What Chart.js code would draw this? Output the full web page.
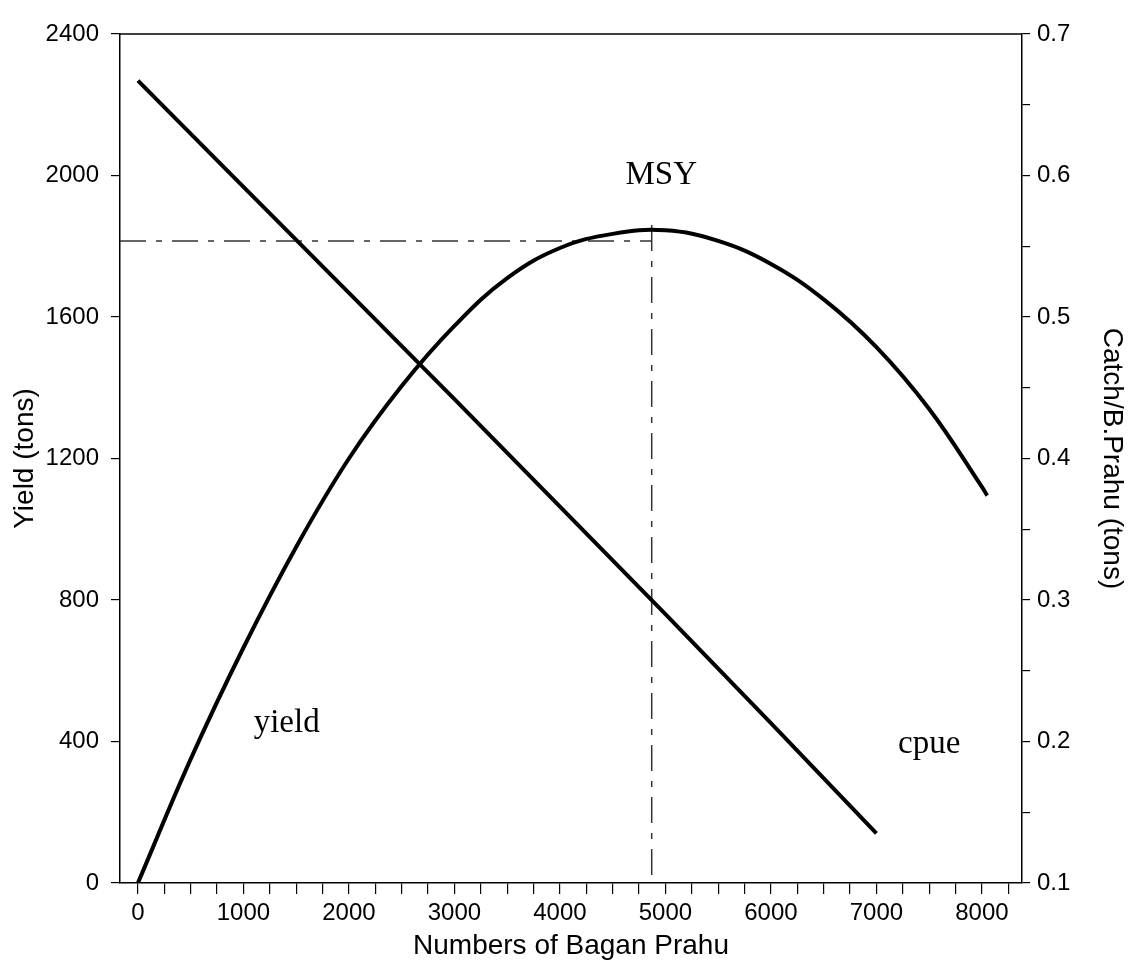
<!DOCTYPE html>
<html>
<head>
<meta charset="utf-8">
<script src="https://cdn.jsdelivr.net/npm/chart.js@4.4.0/dist/chart.umd.min.js"></script>
<style>
    html, body { margin: 0; padding: 0; background: #fff; }
    #wrap { position: relative; width: 1137px; height: 971px; }
</style>
</head>
<body>
<div id="wrap"><canvas id="msyChart"></canvas></div>
<script>
// yield curve (tons) against number of bagan prahu
const effortYield = [0, 500, 1000, 1500, 2000, 2500, 3000, 3500, 4000, 4500, 5000, 5500, 6000, 6500, 7000, 7500, 8000, 8050];
const yieldTons = [0, 350, 665, 950, 1200, 1405, 1575, 1710, 1795, 1835, 1845, 1815, 1750, 1650, 1515, 1340, 1120, 1095];

// catch per unit effort (tons / bagan prahu)
const effortCpue = [0, 1000, 2000, 3000, 4000, 5000, 6000, 7000];
const cpueTons = [0.667, 0.592, 0.517, 0.442, 0.366, 0.290, 0.213, 0.135];

// MSY reference lines
const msyEffort = 4870;
const msyYield = 1815;
const msyTop = 1860;

// axis ranges and ticks
const xMin = -170, xMax = 8380;
const xTicks = [];
for (let v = 0; v <= 8250; v += 250) xTicks.push(v);
const yieldMin = 0, yieldMax = 2400;
const cpueMin = 0.1, cpueMax = 0.7;
const cpueTicks = [0.1, 0.15, 0.2, 0.25, 0.3, 0.35, 0.4, 0.45, 0.5, 0.55, 0.6, 0.65, 0.7];

// labels drawn inside the plot
const notes = [
    { text: 'MSY', x: 4960, y: 2000 },
    { text: 'yield', x: 1410, y: 450 },
    { text: 'cpue', x: 7500, y: 392 }
];

const toPoints = (xs, ys) => xs.map((x, i) => ({ x: x, y: ys[i] }));

const tickFont = { family: 'Liberation Sans, Arial, sans-serif', size: 24 };
const titleFont = { family: 'Liberation Sans, Arial, sans-serif', size: 28 };

const frame = {
    id: 'frame',
    afterDatasetsDraw(chart) {
        const a = chart.chartArea;
        const c = chart.ctx;
        c.save();
        c.strokeStyle = '#000';
        c.lineWidth = 1.5;
        c.beginPath();
        c.moveTo(a.left, a.top);
        c.lineTo(a.right, a.top);
        c.stroke();
        c.restore();
    }
};

const noteText = {
    id: 'noteText',
    afterDatasetsDraw(chart) {
        const c = chart.ctx;
        const xs = chart.scales.x, ys = chart.scales.y;
        c.save();
        c.fillStyle = '#000';
        c.font = '33px "Liberation Serif", "Times New Roman", serif';
        c.textAlign = 'center';
        c.textBaseline = 'middle';
        notes.forEach(n => {
            c.fillText(n.text, xs.getPixelForValue(n.x), ys.getPixelForValue(n.y));
        });
        c.restore();
    }
};

new Chart(document.getElementById('msyChart').getContext('2d'), {
    type: 'line',
    data: {
        datasets: [
            {
                label: 'yield',
                data: toPoints(effortYield, yieldTons),
                yAxisID: 'y',
                borderColor: '#000',
                borderWidth: 4,
                tension: 0.4,
                pointRadius: 0
            },
            {
                label: 'cpue',
                data: toPoints(effortCpue, cpueTons),
                yAxisID: 'y1',
                borderColor: '#000',
                borderWidth: 4,
                tension: 0,
                pointRadius: 0
            },
            {
                label: 'msy-h',
                data: [{ x: xMin, y: msyYield }, { x: msyEffort, y: msyYield }],
                yAxisID: 'y',
                borderColor: '#333',
                borderWidth: 1.5,
                borderDash: [26, 10, 6, 10],
                pointRadius: 0
            },
            {
                label: 'msy-v',
                data: [{ x: msyEffort, y: msyTop }, { x: msyEffort, y: yieldMin }],
                yAxisID: 'y',
                borderColor: '#333',
                borderWidth: 1.5,
                borderDash: [26, 10, 6, 10],
                pointRadius: 0
            }
        ]
    },
    options: {
        responsive: true,
        maintainAspectRatio: false,
        animation: false,
        layout: { padding: { top: 34, left: 0, right: 0, bottom: 0 } },
        plugins: {
            legend: { display: false },
            tooltip: { enabled: false }
        },
        scales: {
            x: {
                type: 'linear',
                min: xMin,
                max: xMax,
                afterFit(s) { s.height = 88; },
                afterBuildTicks(s) { s.ticks = xTicks.map(v => ({ value: v })); },
                border: { display: true, color: '#000', width: 1.5 },
                grid: { drawOnChartArea: false, tickLength: 11, color: '#000', lineWidth: 1.2 },
                ticks: {
                    autoSkip: false,
                    maxRotation: 0,
                    padding: 5,
                    color: '#000',
                    font: tickFont,
                    callback: v => (v % 1000 === 0 ? String(v) : '')
                },
                title: {
                    display: true,
                    text: 'Numbers of Bagan Prahu',
                    color: '#000',
                    font: titleFont,
                    padding: { top: 8, bottom: 8 }
                }
            },
            y: {
                position: 'left',
                min: yieldMin,
                max: yieldMax,
                afterFit(s) { s.width = 120; },
                border: { display: true, color: '#000', width: 1.5 },
                grid: { drawOnChartArea: false, tickLength: 9, color: '#000', lineWidth: 1.2 },
                ticks: {
                    stepSize: 400,
                    padding: 12,
                    color: '#000',
                    font: tickFont,
                    callback: v => String(v)
                },
                title: {
                    display: true,
                    text: 'Yield (tons)',
                    color: '#000',
                    font: titleFont,
                    padding: { top: 8, bottom: 8 }
                }
            },
            y1: {
                position: 'right',
                min: cpueMin,
                max: cpueMax,
                afterFit(s) { s.width = 115; },
                afterBuildTicks(s) { s.ticks = cpueTicks.map(v => ({ value: v })); },
                border: { display: true, color: '#000', width: 1.5 },
                grid: { drawOnChartArea: false, tickLength: 8, color: '#000', lineWidth: 1.2 },
                ticks: {
                    autoSkip: false,
                    padding: 7,
                    color: '#000',
                    font: tickFont,
                    callback: v => {
                        const t = Math.round(v * 100);
                        return t % 10 === 0 ? (t / 100).toFixed(1) : '';
                    }
                },
                title: {
                    display: true,
                    text: 'Catch/B.Prahu (tons)',
                    color: '#000',
                    font: titleFont,
                    padding: { top: 8, bottom: 8 }
                }
            }
        }
    },
    plugins: [frame, noteText]
});
</script>
</body>
</html>
